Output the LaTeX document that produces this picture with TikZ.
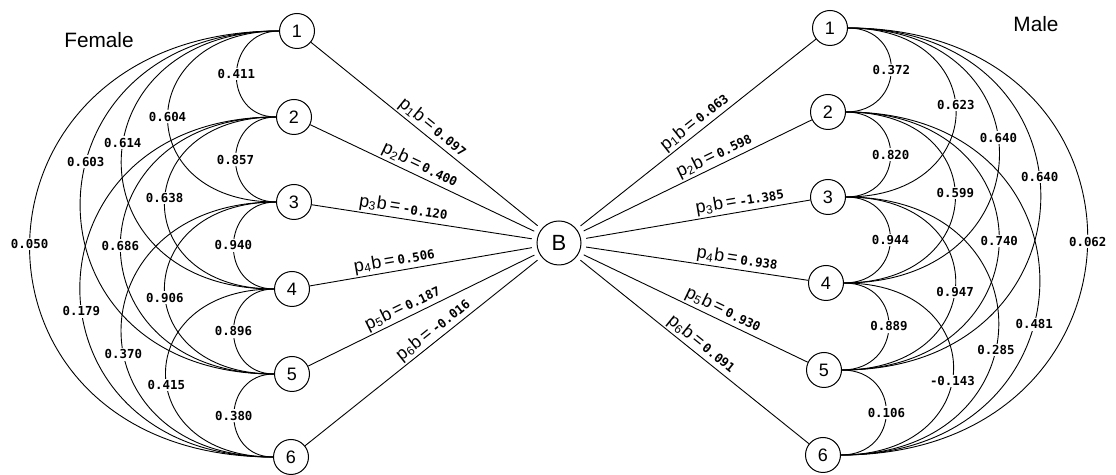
\documentclass[tikz,border=0pt]{standalone}
\usepackage{fontspec}
\setmainfont{Liberation Sans}
\newfontfamily\numfont{DejaVu Sans Mono}
\newcommand\pblbl[2]{{\fontsize{9}{9}\selectfont p\textsubscript{#1}b\,=\,}{\numfont\bfseries\fontsize{6.2}{6.5}\selectfont #2}}
\begin{document}
\begin{tikzpicture}[x=0.5pt,y=-0.5pt,
  nd/.style={circle,draw,line width=0.5pt,minimum size=17.5pt,inner sep=0pt,font=\fontsize{9}{10}\selectfont},
  al/.style={fill=white,inner sep=0.8pt,font=\numfont\bfseries\fontsize{6.2}{6.5}\selectfont},
  pl/.style={sloped,above,inner sep=0.8pt},
  arcl/.style={line width=0.45pt},
  lnl/.style={line width=0.45pt,shorten >=2.5pt},
  lnr/.style={line width=0.45pt,shorten <=2.5pt},
  ttl/.style={font=\fontsize{10.4}{12}\selectfont}]
\useasboundingbox (0,0) rectangle (1116,475);
% nodes
\node[nd] (L1) at (297,31) {1};
\node[nd] (L2) at (294,117) {2};
\node[nd] (L3) at (294,202) {3};
\node[nd] (L4) at (292,289) {4};
\node[nd] (L5) at (292,374) {5};
\node[nd] (L6) at (291,457) {6};
\node[nd] (R1) at (830,28) {1};
\node[nd] (R2) at (828,112) {2};
\node[nd] (R3) at (828,197) {3};
\node[nd] (R4) at (826,283) {4};
\node[nd] (R5) at (824,370) {5};
\node[nd] (R6) at (823,455) {6};
\node[nd,minimum size=22pt,font=\fontsize{11}{12}\selectfont] (B) at (559,243) {B};
\node[ttl] (fem) at (99,40) {Female};
\node[ttl] (mal) at (1036,24) {Male};
% left arcs
\draw[arcl] (L1.west) to[out=180,in=180,looseness=1.63] node[al,pos=.5]{0.411} (L2.west);
\draw[arcl] (L2.west) to[out=180,in=180,looseness=1.63] node[al,pos=.5]{0.857} (L3.west);
\draw[arcl] (L3.west) to[out=180,in=180,looseness=1.63] node[al,pos=.5]{0.940} (L4.west);
\draw[arcl] (L4.west) to[out=180,in=180,looseness=1.63] node[al,pos=.5]{0.896} (L5.west);
\draw[arcl] (L5.west) to[out=180,in=180,looseness=1.63] node[al,pos=.5]{0.380} (L6.west);
\draw[arcl] (L1.west) to[out=180,in=180,looseness=2.19] node[al,pos=.5]{0.604} (L3.west);
\draw[arcl] (L2.west) to[out=180,in=180,looseness=2.19] node[al,pos=.48]{0.638} (L4.west);
\draw[arcl] (L3.west) to[out=180,in=180,looseness=2.19] node[al,pos=.537]{0.906} (L5.west);
\draw[arcl] (L4.west) to[out=180,in=180,looseness=2.19] node[al,pos=.547]{0.415} (L6.west);
\draw[arcl] (L1.west) to[out=180,in=180,looseness=2.05] node[al,pos=.455]{0.614} (L4.west);
\draw[arcl] (L2.west) to[out=180,in=180,looseness=2.05] node[al,pos=.5]{0.686} (L5.west);
\draw[arcl] (L3.west) to[out=180,in=180,looseness=2.05] node[al,pos=.565]{0.370} (L6.west);
\draw[arcl] (L1.west) to[out=180,in=180,looseness=1.95] node[al,pos=.42]{0.603} (L5.west);
\draw[arcl] (L2.west) to[out=180,in=180,looseness=1.95] node[al,pos=.548]{0.179} (L6.west);
\draw[arcl] (L1.west) to[out=180,in=180,looseness=1.97] node[al,pos=.5]{0.050} (L6.west);
% right arcs
\draw[arcl] (R1.east) to[out=0,in=0,looseness=1.8] node[al,pos=.5]{0.372} (R2.east);
\draw[arcl] (R2.east) to[out=0,in=0,looseness=1.8] node[al,pos=.5]{0.820} (R3.east);
\draw[arcl] (R3.east) to[out=0,in=0,looseness=1.8] node[al,pos=.5]{0.944} (R4.east);
\draw[arcl] (R4.east) to[out=0,in=0,looseness=1.8] node[al,pos=.5]{0.889} (R5.east);
\draw[arcl] (R5.east) to[out=0,in=0,looseness=1.8] node[al,pos=.5]{0.106} (R6.east);
\draw[arcl] (R1.east) to[out=0,in=0,looseness=2.2] node[al,pos=.47]{0.623} (R3.east);
\draw[arcl] (R2.east) to[out=0,in=0,looseness=2.2] node[al,pos=.483]{0.599} (R4.east);
\draw[arcl] (R3.east) to[out=0,in=0,looseness=2.2] node[al,pos=.533]{0.947} (R5.east);
\draw[arcl] (R4.east) to[out=0,in=0,looseness=2.2] node[al,pos=.547]{-0.143} (R6.east);
\draw[arcl] (R1.east) to[out=0,in=0,looseness=2.05] node[al,pos=.453]{0.640} (R4.east);
\draw[arcl] (R2.east) to[out=0,in=0,looseness=2.05] node[al,pos=.5]{0.740} (R5.east);
\draw[arcl] (R3.east) to[out=0,in=0,looseness=2.05] node[al,pos=.562]{0.285} (R6.east);
\draw[arcl] (R1.east) to[out=0,in=0,looseness=1.95] node[al,pos=.457]{0.640} (R5.east);
\draw[arcl] (R2.east) to[out=0,in=0,looseness=1.95] node[al,pos=.58]{0.481} (R6.east);
\draw[arcl] (R1.east) to[out=0,in=0,looseness=1.94] node[al,pos=.5]{0.062} (R6.east);
% lines to B
\draw[lnl] (L1) -- node[pl,pos=.5]{\pblbl{1}{0.097}} (B);
\draw[lnl] (L2) -- node[pl,pos=.46]{\pblbl{2}{0.400}} (B);
\draw[lnl] (L3) -- node[pl,pos=.40]{\pblbl{3}{-0.120}} (B);
\draw[lnl] (L4) -- node[pl,pos=.38]{\pblbl{4}{0.506}} (B);
\draw[lnl] (L5) -- node[pl,pos=.43]{\pblbl{5}{0.187}} (B);
\draw[lnl] (L6) -- node[pl,pos=.57]{\pblbl{6}{-0.016}} (B);
\draw[lnr] (B) -- node[pl,pos=.52]{\pblbl{1}{0.063}} (R1);
\draw[lnr] (B) -- node[pl,pos=.60]{\pblbl{2}{0.598}} (R2);
\draw[lnr] (B) -- node[pl,pos=.70]{\pblbl{3}{-1.385}} (R3);
\draw[lnr] (B) -- node[pl,pos=.68]{\pblbl{4}{0.938}} (R4);
\draw[lnr] (B) -- node[pl,pos=.61]{\pblbl{5}{0.930}} (R5);
\draw[lnr] (B) -- node[pl,pos=.51]{\pblbl{6}{0.091}} (R6);
\end{tikzpicture}
\end{document}
